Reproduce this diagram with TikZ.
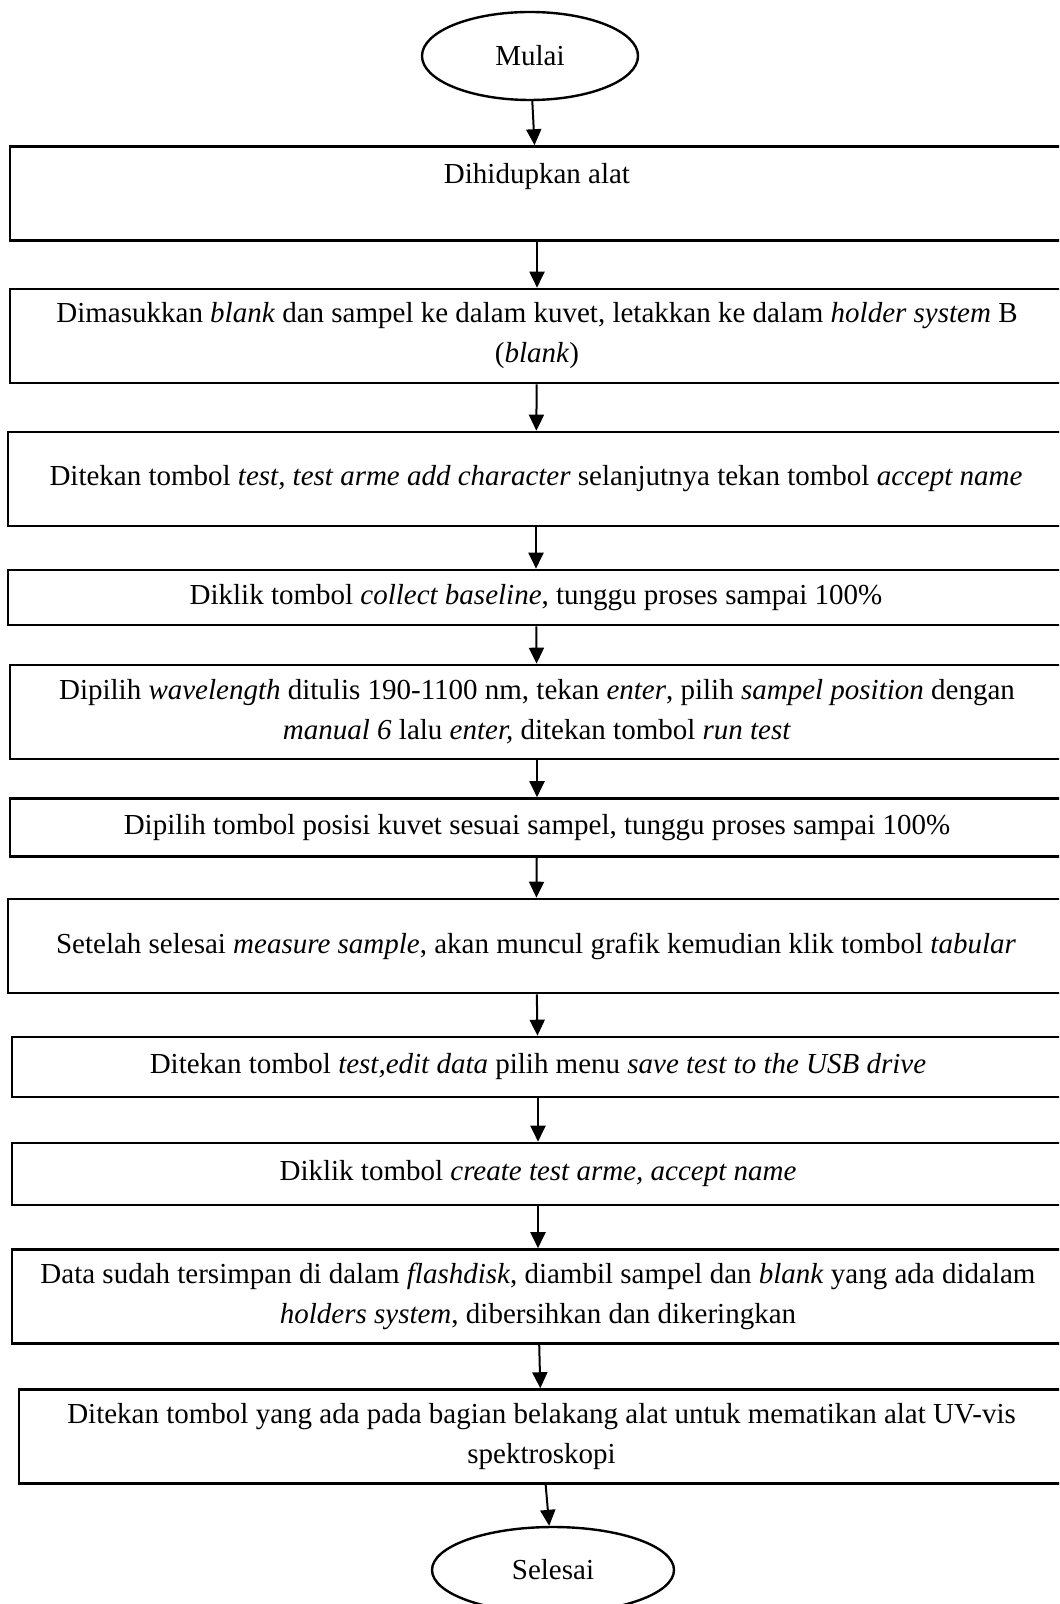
\documentclass[tikz,border=0pt]{standalone}
\usepackage{fontspec}
\setmainfont{Liberation Serif}
\usepackage{tikz}
\usetikzlibrary{shapes.geometric, arrows.meta}

\begin{document}
\begin{tikzpicture}[
  x=0.5pt, y=-0.5pt,
  kotak/.style={draw, line width=1.3pt, inner sep=0pt, align=center,
    font=\fontsize{14.5pt}{20pt}\selectfont},
  tinggi/.style={minimum height=47pt},
  pendek/.style={minimum height=29pt},
  elips/.style={draw, ellipse, line width=1.2pt, inner sep=0pt,
    font=\fontsize{14.5pt}{20pt}\selectfont},
  panah/.style={-{Triangle[length=8pt, width=7.5pt]}, line width=1pt}
]
  \clip (0,0) rectangle (1059,1604);

  \node[elips, minimum width=108pt, minimum height=44pt] (mulai) at (530,56) {Mulai};
  \node[kotak, tinggi, minimum width=527pt] (b1) at (537,193.5) {Dihidupkan alat\\\mbox{}};
  \node[kotak, tinggi, minimum width=527pt] (b2) at (537,336)
    {Dimasukkan \textit{blank} dan sampel ke dalam kuvet, letakkan ke dalam \textit{holder system} B\\(\textit{blank})};
  \node[kotak, tinggi, minimum width=528pt] (b3) at (536,479)
    {Ditekan tombol \textit{test, test arme add character} selanjutnya tekan tombol \textit{accept name}};
  \node[kotak, pendek, minimum width=528pt, minimum height=27.5pt] (b4) at (536,597.5)
    {Diklik tombol \textit{collect baseline}, tunggu proses sampai 100\%};
  \node[kotak, tinggi, minimum width=527pt] (b5) at (537,712)
    {Dipilih \textit{wavelength} ditulis 190-1100 nm, tekan \textit{enter}, pilih \textit{sampel position} dengan\\
     \textit{manual 6} lalu \textit{enter,} ditekan tombol \textit{run test}};
  \node[kotak, pendek, minimum width=527pt] (b6) at (537,827.5)
    {Dipilih tombol posisi kuvet sesuai sampel, tunggu proses sampai 100\%};
  \node[kotak, tinggi, minimum width=528pt] (b7) at (536,946)
    {Setelah selesai \textit{measure sample}, akan muncul grafik kemudian klik tombol \textit{tabular}};
  \node[kotak, pendek, minimum width=526pt, minimum height=30pt] (b8) at (538,1067)
    {Ditekan tombol \textit{test,edit data} pilih menu \textit{save test to the USB drive}};
  \node[kotak, pendek, minimum width=526pt, minimum height=31pt] (b9) at (538,1174)
    {Diklik tombol \textit{create test arme, accept name}};
  \node[kotak, tinggi, minimum width=526pt] (b10) at (538,1296.5)
    {Data sudah tersimpan di dalam \textit{flashdisk}, diambil sampel dan \textit{blank} yang ada didalam\\
     \textit{holders system}, dibersihkan dan dikeringkan};
  \node[kotak, tinggi, minimum width=522.5pt] (b11) at (541.5,1436.5)
    {Ditekan tombol yang ada pada bagian belakang alat untuk mematikan alat UV-vis\\spektroskopi};
  \node[elips, minimum width=121pt, minimum height=43pt] (selesai) at (553,1570) {Selesai};

  \draw[panah] (mulai) -- (b1);
  \draw[panah] (b1) -- (b2);
  \draw[panah] (b2) -- (b3);
  \draw[panah] (b3) -- (b4);
  \draw[panah] (b4) -- (b5);
  \draw[panah] (b5) -- (b6);
  \draw[panah] (b6) -- (b7);
  \draw[panah] (b7) -- (b8);
  \draw[panah] (b8) -- (b9);
  \draw[panah] (b9) -- (b10);
  \draw[panah] (b10) -- (b11);
  \draw[panah] (b11) -- (selesai);
\end{tikzpicture}
\end{document}
